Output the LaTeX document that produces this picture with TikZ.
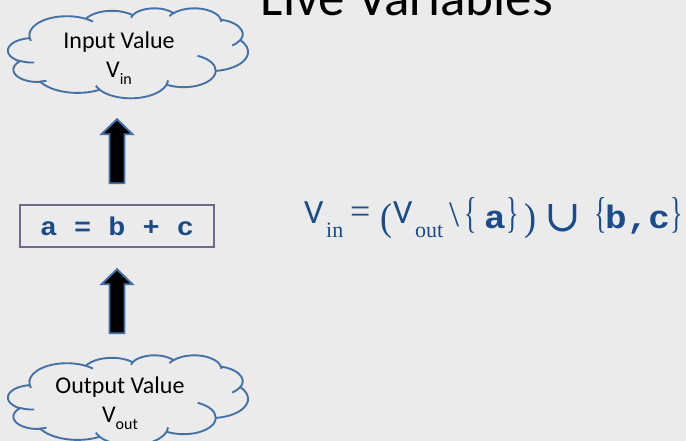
\documentclass[tikz,border=0pt]{standalone}
\usepackage{fontspec}
\setmainfont{Carlito}
\newfontfamily\serifface{Liberation Serif}
\newfontfamily\monoface{Liberation Mono}
\newfontfamily\symface{DejaVu Serif}
\usetikzlibrary{calc}

\definecolor{canvas}{RGB}{235,235,235}
\definecolor{cloudline}{RGB}{68,114,166}
\definecolor{codeblue}{RGB}{26,76,138}
\definecolor{frameline}{RGB}{115,104,140}

% bold typewriter text, squashed a little to get Courier-like proportions
\newcommand{\codetext}[2]{\scalebox{1}[0.9]{\monoface\bfseries\fontsize{#1}{#1}\selectfont #2}}
\newcommand{\serifat}[2]{{\serifface\fontsize{#1}{#1}\selectfont #2}}
\newcommand{\sansat}[2]{{\fontsize{#1}{#1}\selectfont #2}}
% tall, narrow delimiters
\newcommand{\tallbrace}[1]{\scalebox{0.72}[1.2]{\serifat{36}{#1}}}
\newcommand{\tallparen}[1]{\scalebox{1}[1.08]{\serifat{36}{#1}}}

\tikzset{
  cloudstroke/.style={draw=cloudline, line width=1.9pt, line join=round},
  % cloud outline in a 432 x 432 frame, origin at its top-left corner
  pics/cloudshape/.style={code={
    \begin{scope}[xscale=0.5556, yscale=0.2083]
      \draw[cloudstroke] (39.00,143.70)
        arc[start angle=-187.75, delta angle=128.10, x radius=67.53, y radius=91.90]
        arc[start angle=-151.98, delta angle=106.49, x radius=53.33, y radius=72.67]
        arc[start angle=-153.46, delta angle=116.13, x radius=43.65, y radius=59.45]
        arc[start angle=-139.77, delta angle=129.57, x radius=48.57, y radius=65.95]
        arc[start angle=-74.80,  delta angle=98.06,  x radius=53.33, y radius=72.73]
        arc[start angle=-37.53,  delta angle=119.39, x radius=67.75, y radius=92.20]
        arc[start angle=0.46,    delta angle=121.54, x radius=57.85, y radius=78.67]
        arc[start angle=16.89,   delta angle=129.28, x radius=67.52, y radius=92.15]
        arc[start angle=59.09,   delta angle=91.00,  x radius=77.20, y radius=105.43]
        arc[start angle=83.29,   delta angle=139.75, x radius=43.60, y radius=59.18]
        arc[start angle=120.22,  delta angle=143.92, x radius=43.45, y radius=59.45]
        -- cycle;
      \draw[cloudstroke]
        (46.93,261.77)  arc[start angle=85.54,   delta angle=34.81, x radius=43.45, y radius=59.45]
        (69.28,348.99)  arc[start angle=68.24,   delta angle=15.07, x radius=43.60, y radius=59.18]
        (164.78,390.90) arc[start angle=146.23,  delta angle=12.23, x radius=67.52, y radius=92.15]
        (288.27,347.51) arc[start angle=4.74,    delta angle=12.11, x radius=67.52, y radius=92.15]
        (341.29,229.54) arc[start angle=-64.02,  delta angle=64.48, x radius=57.85, y radius=78.67]
        (417.98,153.54) arc[start angle=23.21,   delta angle=26.42, x radius=53.33, y radius=72.73]
        (383.24,54.26)  arc[start angle=-10.20,  delta angle=11.02, x radius=48.57, y radius=65.95]
        (290.78,39.52)  arc[start angle=-156.32, delta angle=16.62, x radius=48.57, y radius=65.95]
        (221.41,47.20)  arc[start angle=-167.73, delta angle=14.24, x radius=43.65, y radius=59.45]
        (140.00,51.92)  arc[start angle=-59.65,  delta angle=13.90, x radius=67.53, y radius=91.90]
        (41.27,157.89)  arc[start angle=163.18,  delta angle=9.07,  x radius=67.53, y radius=91.90];
    \end{scope}}},
  cloudtext/.style={align=center, inner sep=0pt, font=\fontsize{24}{29}\selectfont},
  stmtbox/.style={draw=frameline, line width=1.1pt, minimum width=194, minimum height=42,
    inner sep=0pt, text=codeblue},
  blockarrow/.style={fill=black, draw=cloudline, line width=1.9pt, line join=miter},
  pics/uparrow/.style={code={
    \draw[blockarrow] (-7.5,32) -- (-7.5,-17) -- (-15.5,-17) -- (0,-32)
      -- (15.5,-17) -- (7.5,-17) -- (7.5,32) -- cycle;}},
  formula/.style={inner sep=0pt, text=codeblue, anchor=base west},
  heading/.style={inner sep=0pt, anchor=base east, font=\fontsize{53}{60}\selectfont}
}

\begin{document}
\begin{tikzpicture}[x=1pt,y=-1pt]
  \fill[canvas] (0,0) rectangle (686,441);
  \useasboundingbox (0,0) rectangle (686,441);

  % slide heading, partly above the visible area
  \node[heading] (title) at (553,16) {Live Variables};

  % input value cloud (240 x 90)
  \pic at (8,8) {cloudshape};
  \coordinate (vinbottom) at (128,98);
  \node[cloudtext] (vinlabel) at (119,58)
    {Input Value\\V\raisebox{-7pt}{\fontsize{16}{16}\selectfont in}};

  % the statement
  \node[stmtbox] (stmt) at (117,226) {\raisebox{-3pt}{\codetext{28.5}{a = b + c}}};

  % output value cloud (240 x 90)
  \pic at (8,355) {cloudshape};
  \coordinate (vouttop) at (128,355);
  \node[cloudtext] (voutlabel) at (120,403)
    {Output Value\\V\raisebox{-7pt}{\fontsize{16}{16}\selectfont out}};

  % flow arrows, bottom to top
  \coordinate (upper) at ($(stmt.north)!0.5!(stmt.north |- vinbottom)$);
  \coordinate (lower) at ($(stmt.south)!0.5!(stmt.south |- vouttop)$);
  \pic at (upper) {uparrow};
  \pic at (lower) {uparrow};

  % data-flow equation
  \node[formula] (eqn) at (304,226) {%
    \makebox[22pt][l]{\raisebox{2pt}{\sansat{34}{V}}}%
    \makebox[24pt][l]{\raisebox{-11pt}{\serifat{22}{in}}}%
    \makebox[30pt][l]{\raisebox{2pt}{\serifat{36}{=}}}%
    \makebox[13pt][l]{\raisebox{-4pt}{\tallparen{(}}}%
    \makebox[22pt][l]{\raisebox{2pt}{\sansat{34}{V}}}%
    \makebox[34pt][l]{\raisebox{-11pt}{\serifat{22}{out}}}%
    \makebox[15pt][l]{\raisebox{0pt}{\serifat{36}{\textbackslash}}}%
    \makebox[20pt][l]{\raisebox{-1pt}{\tallbrace{\{}}}%
    \makebox[22pt][l]{\raisebox{-2pt}{\codetext{36}{a}}}%
    \makebox[18pt][l]{\raisebox{-1pt}{\tallbrace{\}}}}%
    \makebox[22pt][l]{\raisebox{-4pt}{\tallparen{)}}}%
    \makebox[48pt][l]{\makebox[34pt]{\raisebox{-5pt}{\symface\fontsize{44}{44}\selectfont ∪}}}%
    \makebox[11pt][l]{\raisebox{-1pt}{\tallbrace{\{}}}%
    \makebox[65pt][l]{\raisebox{-2pt}{\codetext{36}{b,c}}}%
    \raisebox{-1pt}{\tallbrace{\}}}%
  };
\end{tikzpicture}
\end{document}
